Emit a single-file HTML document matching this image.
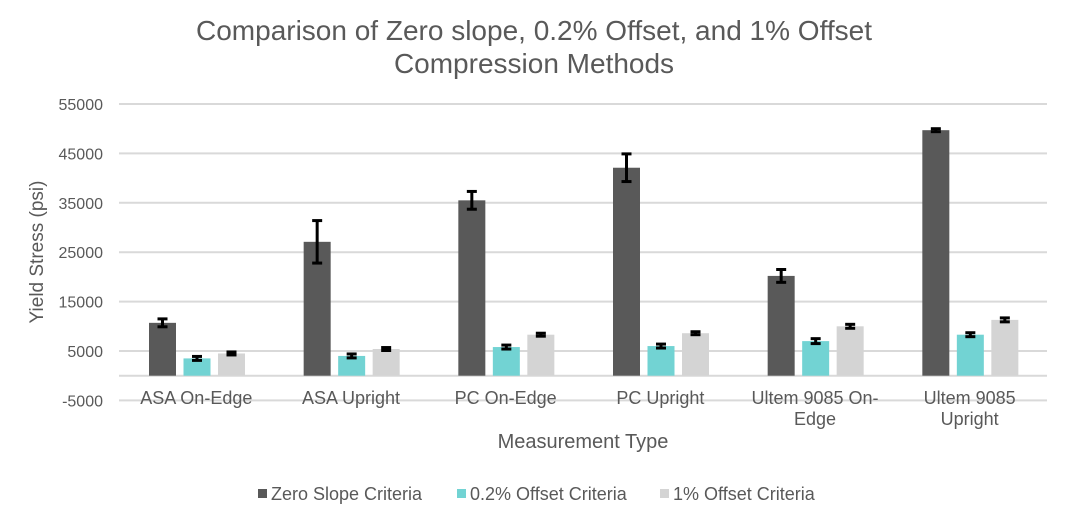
<!DOCTYPE html>
<html><head><meta charset="utf-8"><style>
body{margin:0;background:#fff;font-family:"Liberation Sans",sans-serif;}
svg text{font-family:"Liberation Sans",sans-serif;fill:#595959;}
</style></head><body>
<svg width="1065" height="519" viewBox="0 0 1065 519">
<g>
<text x="534" y="40" text-anchor="middle" font-size="28">Comparison of Zero slope, 0.2% Offset, and 1% Offset</text>
<text x="534" y="73" text-anchor="middle" font-size="28">Compression Methods</text>
</g>
<g id="grid"></g><g id="bars"></g><g id="xlabels"></g>
<text transform="translate(43,252) rotate(-90)" text-anchor="middle" font-size="19">Yield Stress (psi)</text>
<text x="583" y="448" text-anchor="middle" font-size="20">Measurement Type</text>
<g id="legend"></g>
</svg>
<script>
const categories=[["ASA On-Edge"],["ASA Upright"],["PC On-Edge"],["PC Upright"],["Ultem 9085 On-","Edge"],["Ultem 9085","Upright"]];
const zeroSlope=[10700,27100,35500,42100,20200,49700];
const zeroErr=[800,4300,1800,2800,1300,300];
const offset02=[3500,4000,5800,6000,7000,8300];
const offset02Err=[400,400,400,400,500,400];
const offset1=[4500,5400,8300,8600,10000,11300];
const offset1Err=[300,300,300,300,400,400];
const yTicks=[-5000,5000,15000,25000,35000,45000,55000];
const seriesNames=["Zero Slope Criteria","0.2% Offset Criteria","1% Offset Criteria"];
const colors=["#595959","#72d3d3","#d4d4d4"];
const NS="http://www.w3.org/2000/svg";
const X0=119,X1=1047;
const y=v=>375.7-v*0.00494;
const bw=(X1-X0)/categories.length;
const x=(i,s)=>X0+i*bw+30+s*34.5;
function mk(t,a,p){const e=document.createElementNS(NS,t);for(const k in a)e.setAttribute(k,a[k]);p.appendChild(e);return e;}
const grid=document.getElementById('grid');
yTicks.forEach(v=>{
 const l=mk('line',{x1:X0,x2:X1,y1:y(v),y2:y(v),stroke:'#d9d9d9','stroke-width':2},grid);
 
 
 const t=mk('text',{x:103,y:y(v)+6,'text-anchor':'end','font-size':16},grid);
 
 
 t.textContent=v;
});
const z=mk('line',{x1:X0,x2:X1,y1:y(0),y2:y(0),stroke:'#d9d9d9','stroke-width':2},grid);


const bars=document.getElementById('bars');
const vals=[zeroSlope,offset02,offset1],errs=[zeroErr,offset02Err,offset1Err];
categories.forEach((c,i)=>{
 vals.forEach((arr,s)=>{
  const v=arr[i],bx=x(i,s);
  const r=mk('rect',{x:bx,y:y(v),width:27,height:y(0)-y(v),fill:colors[s]},bars);
  
  
  const cx=bx+13.5,e=errs[s][i];
  const g=mk('g',{stroke:'#000','stroke-width':3},bars);
  
  
  mk('line',{x1:cx,x2:cx,y1:y(v+e),y2:y(v-e)},g);
  mk('line',{x1:cx-5,x2:cx+5,y1:y(v+e),y2:y(v+e)},g);
  mk('line',{x1:cx-5,x2:cx+5,y1:y(v-e),y2:y(v-e)},g);
 });
 const t=mk('text',{'text-anchor':'middle','font-size':18},document.getElementById('xlabels'));
 
 
 c.forEach((ln,k)=>{const ts=mk('tspan',{x:X0+i*bw+bw/2,y:404+k*21},t);ts.textContent=ln;});
});
const lg=document.getElementById('legend');
const lx=[258,457,660];
seriesNames.forEach((n,s)=>{
 const g=mk('g',{},lg);
 
 
 mk('rect',{x:lx[s],y:489,width:9,height:9,fill:colors[s]},g);
 const t=mk('text',{x:lx[s]+13,y:500,'font-size':18},g);t.textContent=n;
});
</script>
</body></html>
